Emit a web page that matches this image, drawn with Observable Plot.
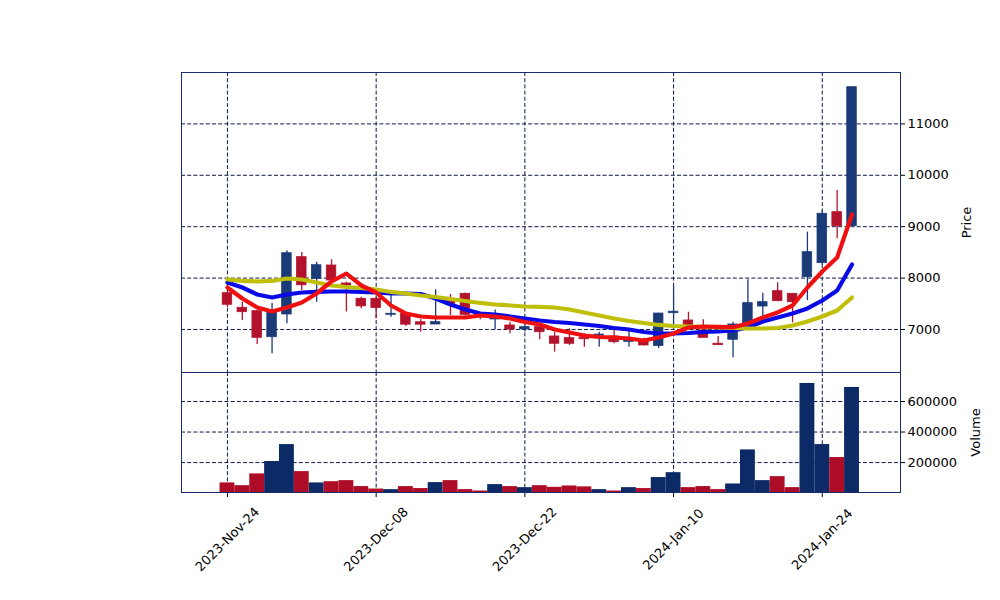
<!DOCTYPE html>
<html><head><meta charset="utf-8">
<script src="https://cdn.jsdelivr.net/npm/d3@7"></script>
<script src="https://cdn.jsdelivr.net/npm/@observablehq/plot@0.6"></script>
<style>
body{margin:0;background:#fff}
#chart{position:relative;width:1000px;height:600px}
#chart svg{position:absolute;left:0;display:block}
</style>
</head><body><div id="chart"></div>
<script>
const dates = ["2023-Nov-24","2023-Nov-27","2023-Nov-28","2023-Nov-29","2023-Nov-30","2023-Dec-01","2023-Dec-04","2023-Dec-05","2023-Dec-06","2023-Dec-07",
"2023-Dec-08","2023-Dec-11","2023-Dec-12","2023-Dec-13","2023-Dec-14","2023-Dec-15","2023-Dec-18","2023-Dec-19","2023-Dec-20","2023-Dec-21",
"2023-Dec-22","2023-Dec-27","2023-Dec-28","2023-Dec-29","2024-Jan-02","2024-Jan-03","2024-Jan-04","2024-Jan-05","2024-Jan-08","2024-Jan-09",
"2024-Jan-10","2024-Jan-11","2024-Jan-12","2024-Jan-15","2024-Jan-16","2024-Jan-17","2024-Jan-18","2024-Jan-19","2024-Jan-22","2024-Jan-23",
"2024-Jan-24","2024-Jan-25","2024-Jan-26"];
const open  = [7706,7422,7356,6850,7292,8407,7986,8245,7895,7597, 7597,7286,7305,7140,7097,7560,7694,7290,7195,7078, 7000,7045,6864,6831,6840,6880,6864,6760,6800,6680, 7317,7175,6981,6722,6800,7097,7447,7745,7694,8018, 8290,9282,9010];
const high  = [7739,7531,7370,7512,8530,8498,8309,8356,7920,7628, 7628,7694,7325,7189,7772,7680,7706,7330,7380,7142, 7123,7123,6947,7013,6916,6947,6994,6981,6830,7317, 7842,7336,7189,6864,7142,7967,7706,7908,7700,8893, 9315,9704,11714];
const low   = [7428,7175,6708,6530,7110,7759,7531,7856,7340,7405, 7208,7240,7058,6947,7097,7272,7260,7190,6994,6916, 6950,6800,6558,6689,6656,6656,6722,6656,6680,6630, 7045,7045,6838,6689,6449,7050,7208,7540,7130,7564, 8245,8765,9010];
const close = [7481,7336,6838,7336,8484,7860,8250,7953,7856,7450, 7418,7305,7094,7094,7142,7500,7286,7265,7215,7000, 7045,6947,6722,6722,6810,6900,6753,6810,6689,7310, 7346,7060,6838,6695,7097,7512,7531,7551,7531,8504, 9251,9010,11714];
const volume = [67000,49000,126000,207000,318000,141000,67000,75000,82000,43000, 27000,23000,43000,30000,69000,82000,23000,14000,56000,43000, 36000,49000,38000,47000,41000,23000,14000,36000,30000,102000, 134000,36000,43000,23000,60000,283000,82000,108000,36000,718000, 318000,233000,692000];
const maFast = [7817,7603,7428,7350,7428,7525,7700,7934,8089,7856, 7720,7467,7311,7253,7233,7233,7233,7272,7253,7214, 7146,7097,7000,6942,6883,6854,6844,6825,6786,6844, 6922,7039,7058,7049,7045,7117,7233,7331,7467,7817, 8128,8401,9237];
const maMid  = [7914,7817,7681,7622,7681,7720,7730,7739,7739,7730, 7720,7700,7700,7690,7603,7486,7389,7311,7292,7253, 7214,7175,7146,7126,7097,7068,7029,7000,6951,6922, 6922,6932,6951,6961,6981,7039,7156,7233,7311,7409, 7564,7759,8265];
const maSlow = [7973,7944,7934,7944,7992,7973,7914,7856,7827,7807, 7778,7730,7700,7661,7632,7593,7554,7516,7486,7467, 7447,7438,7428,7389,7331,7272,7214,7165,7126,7088, 7068,7058,7049,7039,7029,7019,7019,7029,7078,7156, 7253,7370,7622];
const priceTicks = [7000,8000,9000,10000,11000];
const volumeTicks = [200000,400000,600000];
const dateTickIdx = [0,10,20,30,40];

const UP = "#1b3a78", DOWN = "#b3122d", VUP = "#0c2a66", VDOWN = "#ad0d26";
const GRID = "#0e1a4c", FRAME = "#1a2a6c";
const FONT = "DejaVu Sans";

const rows = dates.map((d,i)=>({i, date:d, open:open[i], high:high[i], low:low[i], close:close[i], volume:volume[i],
  maFast:maFast[i], maMid:maMid[i], maSlow:maSlow[i], up: close[i] >= open[i]}));
const ups = rows.filter(d=>d.up), downs = rows.filter(d=>!d.up);
const xDomain = [-3.09, 45.26];
const gridOpts = {stroke:GRID, strokeOpacity:1, strokeWidth:1, strokeDasharray:"4,2.2"};
const style = {fontFamily:FONT, fontSize:"13px", color:"#000", background:"transparent", overflow:"visible"};

const price = Plot.plot({
  width:1000, height:372, marginTop:72, marginBottom:0, marginLeft:181, marginRight:100,
  style,
  x:{domain:xDomain, axis:null},
  y:{domain:[6163,12000], axis:null},
  marks:[
    Plot.gridX(dateTickIdx, gridOpts),
    Plot.gridY(priceTicks, gridOpts),
    Plot.ruleX(ups, {x:"i", y1:"low", y2:"high", stroke:UP, strokeWidth:1.3}),
    Plot.ruleX(downs, {x:"i", y1:"low", y2:"high", stroke:DOWN, strokeWidth:1.3}),
    Plot.rect(ups, {x1:d=>d.i-0.32, x2:d=>d.i+0.32, y1:"open", y2:"close", fill:UP, stroke:UP, strokeWidth:0.8}),
    Plot.rect(downs, {x1:d=>d.i-0.32, x2:d=>d.i+0.32, y1:"open", y2:"close", fill:DOWN, stroke:DOWN, strokeWidth:0.8}),
    Plot.line(rows, {x:"i", y:"maMid", stroke:"#0a0ae6", strokeWidth:4.2}),
    Plot.line(rows, {x:"i", y:"maSlow", stroke:"#bfbf0a", strokeWidth:4.2}),
    Plot.line(rows, {x:"i", y:"maFast", stroke:"#ee1010", strokeWidth:4.2}),
    Plot.axisY({anchor:"right", ticks:priceTicks, tickSize:4, tickPadding:3, tickFormat:d=>String(d), label:null, fontSize:13}),
    Plot.text(["Price"], {text:d=>d, frameAnchor:"right", dx:66, rotate:-90, textAnchor:"middle", lineAnchor:"middle", fontSize:13}),
    Plot.frame({stroke:FRAME, strokeWidth:1})
  ]
});

const vDomain = [0.3*d3.min(volume), 1.1*d3.max(volume)];
const vol = Plot.plot({
  width:1000, height:228, marginTop:0, marginBottom:108, marginLeft:181, marginRight:100,
  style,
  x:{domain:xDomain, axis:null},
  y:{domain:vDomain, axis:null},
  marks:[
    Plot.gridX(dateTickIdx, gridOpts),
    Plot.gridY(volumeTicks, gridOpts),
    Plot.rect(ups, {x1:d=>d.i-0.5, x2:d=>d.i+0.5, y1:vDomain[0], y2:"volume", fill:VUP}),
    Plot.rect(downs, {x1:d=>d.i-0.5, x2:d=>d.i+0.5, y1:vDomain[0], y2:"volume", fill:VDOWN}),
    Plot.axisY({anchor:"right", ticks:volumeTicks, tickSize:4, tickPadding:3, tickFormat:d=>String(d), label:null, fontSize:13}),
    Plot.axisX({anchor:"bottom", ticks:dateTickIdx, tickSize:5, tickFormat:()=>"", label:null}),
    Plot.text(dateTickIdx, {x:d=>d, text:d=>dates[d], frameAnchor:"bottom", dy:47, rotate:-45, textAnchor:"middle", lineAnchor:"middle", fontSize:13}),
    Plot.text(["Volume"], {text:d=>d, frameAnchor:"right", dx:75, rotate:-90, textAnchor:"middle", lineAnchor:"middle", fontSize:13}),
    Plot.frame({stroke:FRAME, strokeWidth:1})
  ]
});

const chart = document.getElementById("chart");
price.style.top = "0px";
vol.style.top = "372px";
chart.appendChild(price);
chart.appendChild(vol);
</script>
</body></html>
